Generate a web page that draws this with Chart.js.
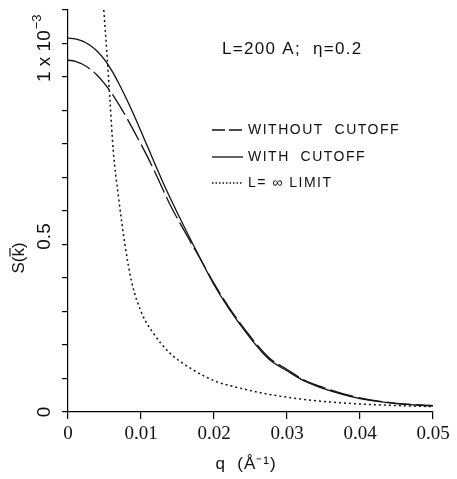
<!DOCTYPE html>
<html>
<head>
<meta charset="utf-8">
<script src="https://cdn.jsdelivr.net/npm/chart.js"></script>
<style>
  body { margin: 0; background: #fff; }
  .wrap { width: 457px; height: 479px; }
</style>
</head>
<body>
<div class="wrap"><canvas id="sk"></canvas></div>
<script>
// q in 1/Å, S(k) in units of 1e-3
const qCut = [0, 0.001, 0.002, 0.003, 0.004, 0.005, 0.006, 0.007, 0.008, 0.009, 0.01, 0.011, 0.012, 0.013, 0.014, 0.016, 0.018, 0.02, 0.022, 0.025, 0.0275, 0.03, 0.0325, 0.035, 0.04, 0.045, 0.05];
const sWith = [1.116, 1.114, 1.107, 1.095, 1.077, 1.052, 1.019, 0.979, 0.935, 0.888, 0.838, 0.787, 0.736, 0.686, 0.639, 0.549, 0.463, 0.38, 0.31, 0.22, 0.158, 0.123, 0.091, 0.07, 0.04, 0.025, 0.018];
const sWithout = [1.05, 1.047, 1.038, 1.024, 1.005, 0.98, 0.951, 0.917, 0.88, 0.84, 0.799, 0.757, 0.712, 0.664, 0.618, 0.538, 0.462, 0.384, 0.314, 0.225, 0.163, 0.127, 0.094, 0.073, 0.042, 0.026, 0.019];

const qInf = [0.0049, 0.0053, 0.00575, 0.0062, 0.0069, 0.0078, 0.0087, 0.0101, 0.0117, 0.014, 0.0172, 0.0204, 0.0227, 0.0272, 0.0318, 0.0363, 0.0409, 0.0455, 0.05];
const sInf = [1.2, 1.08, 0.93, 0.78, 0.645, 0.50, 0.39, 0.295, 0.235, 0.175, 0.125, 0.09, 0.076, 0.054, 0.039, 0.029, 0.023, 0.019, 0.016];

const xTicks = [0, 0.01, 0.02, 0.03, 0.04, 0.05];
const seriesNames = ['WITHOUT  CUTOFF', 'WITH  CUTOFF', 'L= \u221E LIMIT'];

const pts = (xs, ys) => xs.map((x, i) => ({ x: x, y: ys[i] }));
const ink = '#111';

// axis labels, annotation and legend drawn by hand
const decor = {
  id: 'decor',
  afterDraw(chart) {
    const ctx = chart.ctx;
    const ys = chart.scales.y;
    ctx.save();
    ctx.fillStyle = ink;
    ctx.strokeStyle = ink;
    ctx.textBaseline = 'middle';

    const upright = (x, y, draw) => {
      ctx.save();
      ctx.translate(x, y);
      ctx.rotate(-Math.PI / 2);
      draw();
      ctx.restore();
    };

    // rotated y labels
    ctx.font = '19px "Liberation Sans", Arial, sans-serif';
    upright(45, ys.getPixelForValue(0), () => { ctx.textAlign = 'center'; ctx.fillText('0', 0, 0); });
    upright(45, ys.getPixelForValue(0.5) - 8, () => { ctx.textAlign = 'center'; ctx.fillText('0.5', 0, 0); });
    upright(45, ys.getPixelForValue(1) + 5, () => {
      ctx.textAlign = 'left';
      ctx.fillText('1 x 10', 0, 0);
      const w = ctx.measureText('1 x 10').width;
      ctx.font = '13px "Liberation Sans", Arial, sans-serif';
      ctx.fillText('\u22123', w + 1, -8);
    });

    // y title, with a bar over the k
    ctx.font = '17px "Liberation Sans", Arial, sans-serif';
    upright(19, 258, () => {
      ctx.textAlign = 'left';
      const full = ctx.measureText('S(k)').width;
      const pre = ctx.measureText('S(').width;
      const kw = ctx.measureText('k').width;
      const x0 = -full / 2;
      ctx.fillText('S(k)', x0, 0);
      ctx.lineWidth = 1.2;
      ctx.beginPath();
      ctx.moveTo(x0 + pre, -9);
      ctx.lineTo(x0 + pre + kw, -9);
      ctx.stroke();
    });

    // x title
    ctx.textAlign = 'center';
    ctx.font = '17px "Liberation Sans", Arial, sans-serif';
    ctx.letterSpacing = '1px';
    ctx.fillText('q  (\u00C5\u207B\u00B9)', 246, 464);

    // annotation
    ctx.textAlign = 'left';
    ctx.font = '17px "Liberation Sans", Arial, sans-serif';
    ctx.letterSpacing = '1.3px';
    ctx.fillText('L=200 A;  \u03B7=0.2', 222, 49);

    // legend
    ctx.font = '14px "Liberation Sans", Arial, sans-serif';
    ctx.letterSpacing = '1.5px';
    const rows = [130, 157, 183];
    const dashes = [[13, 4], [], [1.5, 2]];
    rows.forEach((y, i) => {
      ctx.save();
      ctx.lineWidth = 1.3;
      ctx.setLineDash(dashes[i]);
      ctx.beginPath();
      ctx.moveTo(212, y);
      ctx.lineTo(243, y);
      ctx.stroke();
      ctx.restore();
      ctx.fillText(seriesNames[i], 248, y);
    });
    ctx.restore();
  }
};

new Chart(document.getElementById('sk'), {
  type: 'line',
  data: {
    datasets: [
      { label: seriesNames[0], data: pts(qCut, sWithout), borderDash: [24, 5] },
      { label: seriesNames[1], data: pts(qCut, sWith) },
      { label: seriesNames[2], data: pts(qInf, sInf), borderDash: [2, 3], borderWidth: 1.5 }
    ].map(d => Object.assign({
      borderColor: ink,
      borderWidth: 1.3,
      pointRadius: 0,
      fill: false,
      cubicInterpolationMode: 'monotone'
    }, d))
  },
  options: {
    responsive: true,
    maintainAspectRatio: false,
    animation: false,
    devicePixelRatio: 1,
    layout: { padding: { top: 10, right: 24, left: 0, bottom: 0 } },
    plugins: { legend: { display: false }, tooltip: { enabled: false } },
    scales: {
      x: {
        type: 'linear',
        min: 0,
        max: 0.05,
        afterFit: s => { s.height = 67; },
        afterBuildTicks: s => { s.ticks = xTicks.map(v => ({ value: v })); },
        border: { color: '#000', width: 1.2 },
        grid: { drawOnChartArea: false, drawTicks: true, tickLength: 7, color: '#000', lineWidth: 1.2 },
        ticks: {
          color: ink,
          padding: 4,
          maxRotation: 0,
          font: { family: '"Liberation Serif", serif', size: 19 },
          callback: v => String(v)
        }
      },
      y: {
        min: 0,
        max: 1.2,
        afterFit: s => { s.width = 68; },
        border: { color: '#000', width: 1.2 },
        grid: { drawOnChartArea: false, drawTicks: true, tickLength: 6, color: '#000', lineWidth: 1.2 },
        ticks: { display: false, stepSize: 0.1 }
      }
    }
  },
  plugins: [decor]
});
</script>
</body>
</html>
